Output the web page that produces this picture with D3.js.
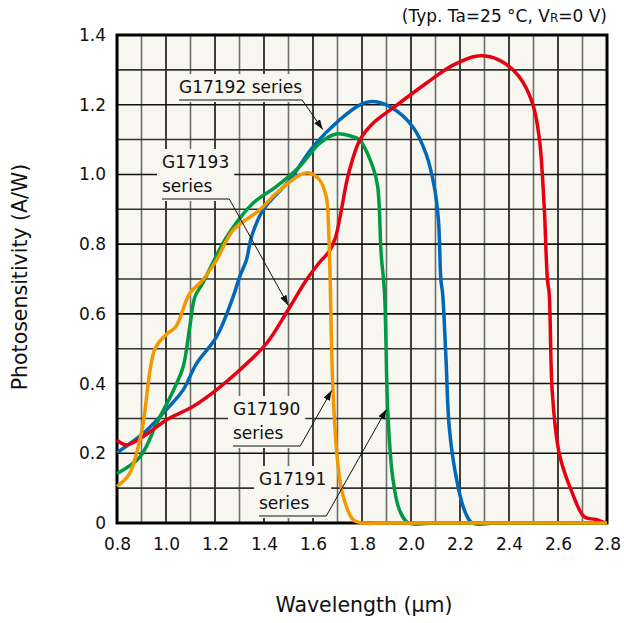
<!DOCTYPE html>
<html>
<head>
<meta charset="utf-8">
<script src="https://cdn.jsdelivr.net/npm/d3@7"></script>
<style>
  body { margin: 0; background: #ffffff; }
  text { font-family: "DejaVu Sans", Verdana, sans-serif; fill: #111; }
</style>
</head>
<body>
<div id="canvas"></div>
<script>
"use strict"

/* values: [wavelength (um), photosensitivity (A/W)] */
let g17190 = [[0.80,0.105],[0.85,0.14],[0.90,0.26],[0.955,0.50],[1.00,0.54],[1.04,0.563],[1.097,0.659],
              [1.15,0.697],[1.206,0.754],[1.274,0.84],[1.382,0.898],[1.45,0.946],[1.545,0.998],[1.58,1.005],
              [1.627,0.984],[1.654,0.936],[1.665,0.82],[1.681,0.39],[1.70,0.18],[1.72,0.085],[1.763,0.01],
              [1.80,0],[1.90,0],[2.80,0]];
let g17191 = [[0.80,0.142],[0.894,0.19],[0.962,0.286],[1.03,0.38],[1.07,0.448],[1.097,0.563],[1.118,0.649],
              [1.15,0.688],[1.19,0.745],[1.247,0.82],[1.355,0.917],[1.45,0.965],[1.545,1.022],[1.627,1.089],
              [1.695,1.116],[1.763,1.108],[1.79,1.099],[1.844,1.022],[1.864,0.965],[1.878,0.774],[1.892,0.659],
              [1.905,0.324],[1.925,0.133],[1.953,0.037],[1.99,0],[2.10,0],[2.80,0]];
let g17192 = [[0.80,0.202],[0.907,0.257],[1.00,0.324],[1.07,0.382],[1.125,0.458],[1.206,0.534],[1.274,0.649],
              [1.301,0.707],[1.328,0.754],[1.349,0.821],[1.396,0.898],[1.505,0.984],[1.60,1.079],[1.708,1.156],
              [1.79,1.199],[1.844,1.209],[1.925,1.19],[2.007,1.137],[2.061,1.06],[2.095,0.965],[2.112,0.869],
              [2.122,0.697],[2.129,0.659],[2.143,0.468],[2.156,0.276],[2.184,0.133],[2.218,0.037],[2.25,0],
              [2.35,0],[2.80,0]];
let g17193 = [[0.80,0.238],[0.84,0.224],[0.907,0.248],[1.00,0.295],[1.11,0.334],[1.206,0.382],[1.301,0.439],
              [1.41,0.515],[1.498,0.611],[1.573,0.697],[1.627,0.748],[1.665,0.778],[1.69,0.815],[1.715,0.895],
              [1.742,0.993],[1.79,1.097],[1.844,1.146],[1.925,1.19],[2.061,1.261],[2.17,1.313],[2.272,1.34],
              [2.36,1.328],[2.442,1.28],[2.496,1.204],[2.523,1.108],[2.543,0.917],[2.557,0.697],[2.564,0.659],
              [2.577,0.372],[2.605,0.2],[2.659,0.085],[2.707,0.018],[2.754,0.01],[2.795,0]];

let xTickValues = [0.8,1.0,1.2,1.4,1.6,1.8,2.0,2.2,2.4,2.6,2.8];
let yTickValues = [0,0.2,0.4,0.6,0.8,1.0,1.2,1.4];
let yTickLabels = ["0","0.2","0.4","0.6","0.8","1.0","1.2","1.4"];

let seriesNames = ["G17192 series","G17191 series","G17193 series","G17190 series"];
let seriesColors = ["#0068b7","#009944","#e60012","#f39800"];
let seriesData = [g17192, g17191, g17193, g17190];

/* arrow tips in data units, label boxes in page pixels */
let notes = [
  { lines: ["G17192 series"], x: 179, y: 93, tip: [1.64, 1.129] },
  { lines: ["G17193", "series"], x: 162, y: 168, tip: [1.499, 0.625] },
  { lines: ["G17190", "series"], x: 233, y: 415, tip: [1.676, 0.38] },
  { lines: ["G17191", "series"], x: 259, y: 485, tip: [1.90, 0.326] }
];

let drawing = d3.select("#canvas")
    .append("svg")
    .attr("width", 624)
    .attr("height", 623);

let x = d3.scaleLinear().domain([0.8, 2.8]).range([117, 607]);
let y = d3.scaleLinear().domain([0, 1.4]).range([523, 35]);

drawing.append("defs").append("marker")
    .attr("id", "arrow")
    .attr("viewBox", "0 0 10 10")
    .attr("refX", 10).attr("refY", 5)
    .attr("markerWidth", 10).attr("markerHeight", 10)
    .attr("markerUnits", "userSpaceOnUse")
    .attr("orient", "auto")
    .append("path")
    .attr("d", "M0,1.5 L10,5 L0,8.5 Z")
    .attr("fill", "#111");

// plot background
drawing.append("rect")
    .attr("x", x(0.8)).attr("y", y(1.4))
    .attr("width", x(2.8) - x(0.8)).attr("height", y(0) - y(1.4))
    .attr("fill", "#f7f6ef");

// grid: every 0.1, darker on the 0.2 steps
let vGrid = d3.range(9, 28).map(d => d / 10);
drawing.append("g").selectAll("line").data(vGrid).join("line")
    .attr("x1", d => x(d)).attr("x2", d => x(d))
    .attr("y1", y(1.4)).attr("y2", y(0))
    .attr("stroke", (d, i) => i % 2 === 1 ? "#111" : "#6e6e6e")
    .attr("stroke-width", 1.6);

let hGrid = d3.range(1, 14).map(d => d / 10);
drawing.append("g").selectAll("line").data(hGrid).join("line")
    .attr("x1", x(0.8)).attr("x2", x(2.8))
    .attr("y1", d => y(d)).attr("y2", d => y(d))
    .attr("stroke", (d, i) => i % 2 === 1 ? "#111" : "#333")
    .attr("stroke-width", 1.6);

// label boxes cover the grid
let noteGroup = drawing.append("g");
notes.forEach(n => {
    let g = noteGroup.append("g");
    let t = g.append("text")
        .attr("x", n.x).attr("y", n.y)
        .attr("font-size", 17);
    n.lines.forEach((s, i) => {
        t.append("tspan").attr("x", n.x).attr("dy", i === 0 ? 0 : 24).text(s);
    });
    let b = t.node().getBBox();
    g.insert("rect", "text")
        .attr("x", b.x - 5).attr("y", b.y - 3)
        .attr("width", b.width + 10).attr("height", b.height + 8)
        .attr("fill", "#f7f6ef");
    n.right = b.x + b.width;
    n.under = b.y + b.height + 3;
});

let border = drawing.append("rect")
    .attr("x", x(0.8)).attr("y", y(1.4))
    .attr("width", x(2.8) - x(0.8)).attr("height", y(0) - y(1.4))
    .attr("fill", "none")
    .attr("stroke", "#000")
    .attr("stroke-width", 3);

let line = d3.line()
    .x(d => x(d[0]))
    .y(d => y(d[1]))
    .curve(d3.curveCatmullRom.alpha(0.5));

drawing.append("g").selectAll("path").data(seriesData).join("path")
    .attr("d", d => line(d))
    .attr("fill", "none")
    .attr("stroke", (d, i) => seriesColors[i])
    .attr("stroke-width", 3.5)
    .attr("stroke-linejoin", "round");

// underline + leader arrow for each label
notes.forEach(n => {
    drawing.append("polyline")
        .attr("points", [[n.x, n.under], [n.right, n.under], [x(n.tip[0]), y(n.tip[1])]].map(p => p.join(",")).join(" "))
        .attr("fill", "none")
        .attr("stroke", "#111")
        .attr("stroke-width", 1)
        .attr("marker-end", "url(#arrow)");
});

// axes
let yAxis = drawing.append("g")
    .attr("transform", "translate(" + x(0.8) + ",0)")
    .call(d3.axisLeft(y).tickValues(yTickValues).tickSize(0).tickPadding(11)
        .tickFormat((d, i) => yTickLabels[i]));
yAxis.select(".domain").remove();
yAxis.selectAll("text").attr("font-size", 17).attr("font-family", "DejaVu Sans").attr("fill", "#111");

let xAxis = drawing.append("g")
    .attr("transform", "translate(0," + y(0) + ")")
    .call(d3.axisBottom(x).tickValues(xTickValues).tickSize(0).tickPadding(15)
        .tickFormat(d3.format(".1f")));
xAxis.select(".domain").remove();
xAxis.selectAll("text").attr("font-size", 17).attr("font-family", "DejaVu Sans").attr("fill", "#111");

drawing.append("text")
    .attr("x", 364).attr("y", 612)
    .attr("text-anchor", "middle")
    .attr("font-size", 20.5)
    .text("Wavelength (μm)");

drawing.append("text")
    .attr("transform", "translate(27,277) rotate(-90)")
    .attr("text-anchor", "middle")
    .attr("font-size", 20.5)
    .text("Photosensitivity (A/W)");

let title = drawing.append("text")
    .attr("x", 607).attr("y", 22)
    .attr("text-anchor", "end")
    .attr("font-size", 17);
title.append("tspan").text("(Typ. Ta=25 °C, V");
title.append("tspan").attr("font-size", 12).text("R");
title.append("tspan").text("=0 V)");
</script>
</body>
</html>
